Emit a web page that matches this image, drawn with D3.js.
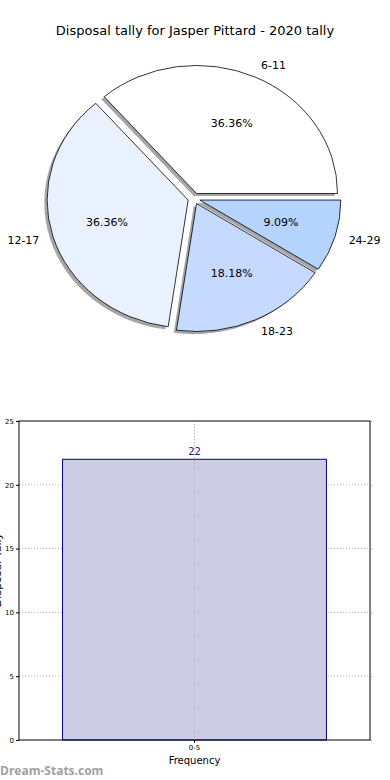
<!DOCTYPE html>
<html>
<head>
  <meta charset="utf-8">
  <script src="https://cdn.jsdelivr.net/npm/d3@7"></script>
  <style>
    body { margin: 0; background: #fff; }
    svg text { font-family: "DejaVu Sans", sans-serif; }
  </style>
</head>
<body>
<script>
  "use strict";
  // pie data (disposal ranges and number of games)
  var pieLabels = ["6-11", "12-17", "18-23", "24-29"];
  var pieCounts = [8, 8, 4, 2];
  var pieColors = ["#ffffff", "#eaf1fe", "#c6d9fe", "#b4d4fe"];

  // bar data
  var barCats = ["0-5"];
  var barValues = [22];
  var yTicks = [0, 5, 10, 15, 20, 25];

  var width = 390, height = 780;

  var svg = d3.select("body").append("svg")
      .attr("width", width)
      .attr("height", height);

  svg.append("text")
      .attr("x", 195)
      .attr("y", 35)
      .attr("text-anchor", "middle")
      .style("font-size", "13px")
      .text("Disposal tally for Jasper Pittard - 2020 tally");

  /*
    Pie (elliptical like the original, exploded, with shadow)
  */
  var cx = 194, cy = 198.5, rx = 141, ry = 128, explode = 0.043;
  var total = d3.sum(pieCounts);

  var pie = d3.pie().sort(null)
      .startAngle(Math.PI / 2)
      .endAngle(Math.PI / 2 - 2 * Math.PI);
  var arcs = pie(pieCounts);
  var arc = d3.arc().innerRadius(0).outerRadius(1);

  function dir(d) {
    var m = (d.startAngle + d.endAngle) / 2;
    return [Math.sin(m), -Math.cos(m)];
  }

  var pieG = svg.append("g");

  // shadows first
  pieG.selectAll("path.shadow")
      .data(arcs)
      .enter().append("path")
      .attr("class", "shadow")
      .attr("d", arc)
      .attr("transform", function(d) {
        var v = dir(d);
        return "translate(" + (cx + v[0] * explode * rx - 2.8) + "," + (cy + v[1] * explode * ry + 2.6) + ") scale(" + rx + "," + ry + ")";
      })
      .attr("fill", "#4d4d4d")
      .attr("fill-opacity", 0.5);

  pieG.selectAll("path.wedge")
      .data(arcs)
      .enter().append("path")
      .attr("class", "wedge")
      .attr("d", arc)
      .attr("transform", function(d) {
        var v = dir(d);
        return "translate(" + (cx + v[0] * explode * rx) + "," + (cy + v[1] * explode * ry) + ") scale(" + rx + "," + ry + ")";
      })
      .attr("fill", function(d, i) { return pieColors[i]; })
      .attr("stroke", "#000")
      .attr("stroke-width", 0.8)
      .attr("vector-effect", "non-scaling-stroke");

  // percentage labels
  pieG.selectAll("text.pct")
      .data(arcs)
      .enter().append("text")
      .attr("class", "pct")
      .attr("x", function(d) { return cx + dir(d)[0] * (0.6 + explode) * rx; })
      .attr("y", function(d) { return cy + dir(d)[1] * (0.6 + explode) * ry; })
      .attr("dy", "0.35em")
      .attr("text-anchor", "middle")
      .style("font-size", "11px")
      .text(function(d) { return (d.data / total * 100).toFixed(2) + "%"; });

  // category labels
  pieG.selectAll("text.lbl")
      .data(arcs)
      .enter().append("text")
      .attr("class", "lbl")
      .attr("x", function(d) { return cx + dir(d)[0] * (1.1 + explode) * rx; })
      .attr("y", function(d) { return cy + dir(d)[1] * (1.1 + explode) * ry; })
      .attr("dy", "0.35em")
      .attr("text-anchor", function(d) { return dir(d)[0] > 0 ? "start" : "end"; })
      .style("font-size", "11px")
      .text(function(d, i) { return pieLabels[i]; });

  /*
    Bar chart
  */
  var plotLeft = 19, plotRight = 370, plotTop = 421, plotBottom = 740;

  var x = d3.scaleBand()
      .domain(barCats)
      .range([plotLeft, plotRight])
      .paddingInner(0)
      .paddingOuter(0.165);
  var y = d3.scaleLinear()
      .domain([0, 25])
      .range([plotBottom, plotTop]);

  var bar = svg.append("g");

  // grid
  bar.selectAll("line.hgrid")
      .data(yTicks.slice(1, -1))
      .enter().append("line")
      .attr("x1", plotLeft).attr("x2", plotRight)
      .attr("y1", function(d) { return y(d); })
      .attr("y2", function(d) { return y(d); })
      .attr("stroke", "#b0b0b0")
      .attr("stroke-dasharray", "1,2");

  bar.selectAll("rect.bar")
      .data(barValues)
      .enter().append("rect")
      .attr("class", "bar")
      .attr("x", function(d, i) { return x(barCats[i]); })
      .attr("y", function(d) { return y(d); })
      .attr("width", x.bandwidth())
      .attr("height", function(d) { return plotBottom - y(d); })
      .attr("fill", "#ccccE5")
      .attr("stroke", "#000080")
      .attr("stroke-width", 1);

  bar.selectAll("line.vgrid")
      .data(barCats)
      .enter().append("line")
      .attr("x1", function(d) { return x(d) + x.bandwidth() / 2; })
      .attr("x2", function(d) { return x(d) + x.bandwidth() / 2; })
      .attr("y1", plotTop).attr("y2", plotBottom)
      .attr("stroke", "#b0b0b0")
      .attr("stroke-dasharray", "1,2");

  bar.selectAll("text.val")
      .data(barValues)
      .enter().append("text")
      .attr("x", function(d, i) { return x(barCats[i]) + x.bandwidth() / 2; })
      .attr("y", function(d) { return y(d) - 4; })
      .attr("text-anchor", "middle")
      .attr("fill", "#1a1a80")
      .style("font-size", "10px")
      .text(function(d) { return d; });

  // frame
  bar.append("rect")
      .attr("x", plotLeft).attr("y", plotTop)
      .attr("width", plotRight - plotLeft).attr("height", plotBottom - plotTop)
      .attr("fill", "none")
      .attr("stroke", "#000")
      .attr("stroke-width", 1);

  var yAxis = d3.axisLeft(y).tickValues(yTicks).tickSize(3).tickPadding(2);
  bar.append("g")
      .attr("transform", "translate(" + plotLeft + ",0)")
      .call(yAxis)
      .call(function(g) { g.select(".domain").remove(); })
      .call(function(g) { g.selectAll("text").style("font-size", "7px").style("font-family", "DejaVu Sans, sans-serif"); });

  var yAxisR = d3.axisRight(y).tickValues(yTicks).tickSize(2).tickFormat("");
  bar.append("g")
      .attr("transform", "translate(" + plotRight + ",0)")
      .call(yAxisR)
      .call(function(g) { g.select(".domain").remove(); g.selectAll("line").attr("stroke", "#999"); });

  var xAxis = d3.axisBottom(x).tickSize(3).tickPadding(2);
  bar.append("g")
      .attr("transform", "translate(0," + plotBottom + ")")
      .call(xAxis)
      .call(function(g) { g.select(".domain").remove(); })
      .call(function(g) { g.selectAll("text").style("font-size", "7px").style("font-family", "DejaVu Sans, sans-serif"); });

  svg.append("text")
      .attr("x", (plotLeft + plotRight) / 2)
      .attr("y", 764)
      .attr("text-anchor", "middle")
      .style("font-size", "10px")
      .text("Frequency");

  // y label, mostly clipped at the left edge as in the original
  svg.append("text")
      .attr("transform", "translate(0.5,570) rotate(-90)")
      .attr("text-anchor", "middle")
      .style("font-size", "11px")
      .text("Disposal Tally");

  svg.append("text")
      .attr("x", 0)
      .attr("y", 775)
      .attr("fill", "#a0a0a0")
      .style("font-size", "12px")
      .style("font-weight", "bold")
      .style("font-family", "Open Sans, sans-serif")
      .text("Dream-Stats.com");
</script>
</body>
</html>
